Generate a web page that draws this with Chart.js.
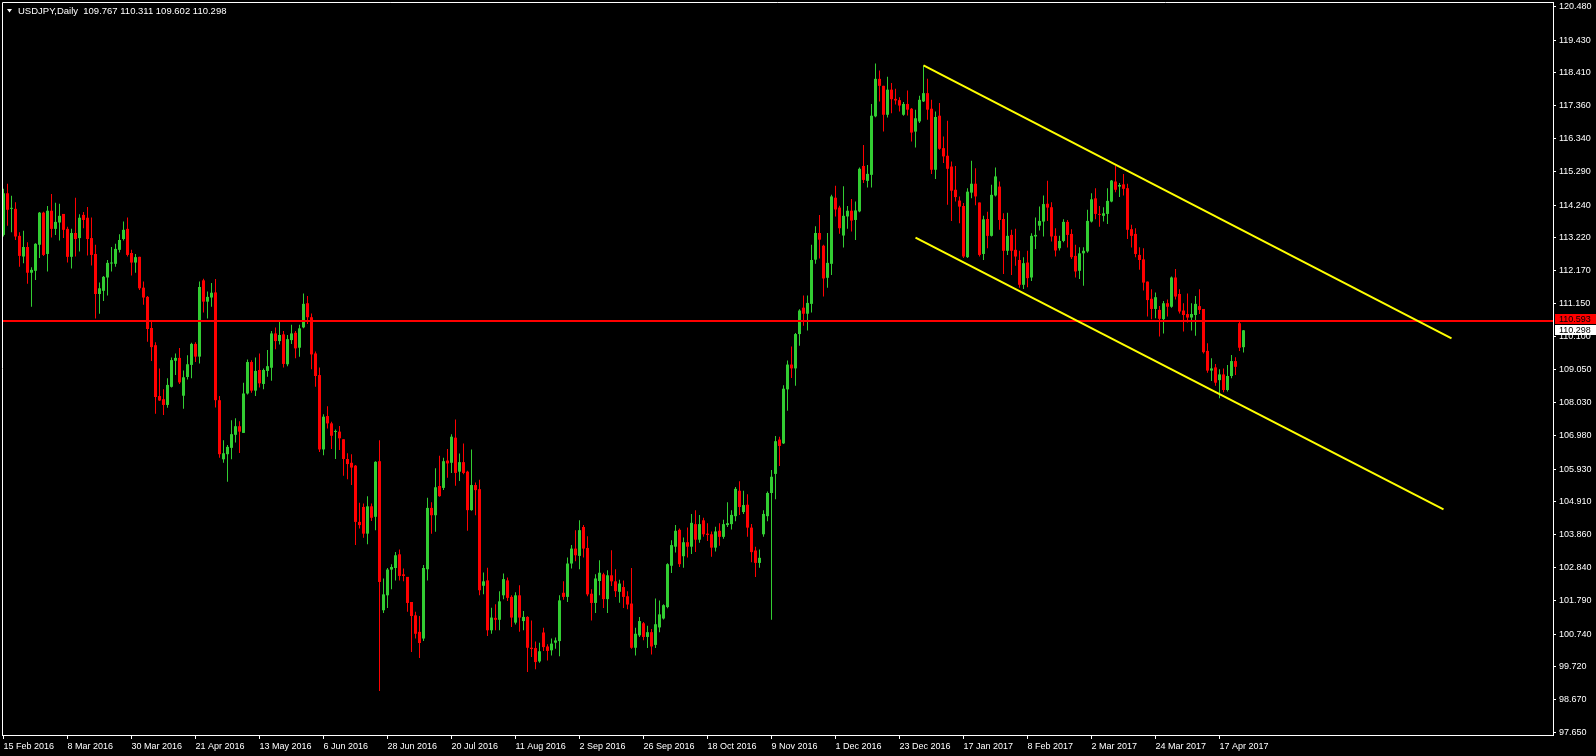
<!DOCTYPE html>
<html>
<head>
<meta charset="utf-8">
<title>USDJPY,Daily</title>
<script src="https://cdn.jsdelivr.net/npm/chart.js@4.4.1/dist/chart.umd.min.js"></script>
<style>
    html, body { margin: 0; padding: 0; background: #000; overflow: hidden; }
    canvas { display: block; }
</style>
</head>
<body>
<canvas id="priceChart" width="1596" height="756"></canvas>
<script>
const symbolName = 'USDJPY,Daily';

// daily candles, 15 Feb 2016 .. 25 Apr 2017 (bar index = position in arrays)
const opens = [
    113.30, 114.61, 114.12, 114.12, 113.27, 112.62, 112.92, 112.11, 112.17, 112.99,
    114.00, 112.70, 114.06, 113.49, 113.69, 113.96, 113.49, 112.61, 113.36, 113.20,
    113.93, 113.84, 113.20, 112.70, 111.44, 111.54, 111.96, 112.40, 112.39, 112.83,
    113.17, 113.49, 112.73, 112.43, 112.61, 111.64, 111.35, 110.37, 109.83, 108.23,
    108.13, 107.95, 108.52, 109.34, 109.43, 108.24, 108.83, 109.21, 109.87, 109.47,
    111.87, 111.20, 111.33, 111.49, 108.10, 106.24, 106.40, 106.60, 107.01, 107.28,
    107.07, 108.31, 109.30, 108.40, 109.05, 108.61, 109.02, 109.12, 110.20, 109.96,
    110.17, 109.23, 109.99, 110.22, 109.75, 110.39, 111.15, 110.71, 109.57, 108.89,
    106.55, 107.60, 107.37, 107.10, 107.11, 106.87, 106.25, 106.13, 106.04, 104.27,
    104.74, 103.90, 104.76, 104.43, 106.18, 101.49, 101.96, 102.77, 102.82, 103.25,
    102.62, 102.54, 101.75, 101.33, 100.81, 100.60, 102.78, 104.71, 104.48, 105.40,
    105.34, 106.20, 106.13, 106.92, 105.85, 106.15, 105.85, 104.64, 105.43, 105.30,
    102.26, 102.43, 100.86, 101.25, 101.19, 101.96, 102.43, 101.91, 101.10, 101.96,
    101.15, 101.28, 100.31, 100.30, 99.88, 100.79, 100.35, 100.23, 100.47, 100.52,
    102.04, 101.91, 102.96, 103.43, 103.20, 104.11, 103.45, 102.01, 101.72, 102.41,
    102.62, 101.84, 102.59, 102.40, 102.07, 102.22, 101.93, 101.70, 100.31, 100.70,
    101.08, 100.65, 100.80, 100.40, 100.95, 101.23, 101.59, 102.89, 103.49, 104.02,
    103.19, 103.63, 103.49, 104.20, 103.71, 104.32, 103.90, 103.88, 103.46, 103.99,
    103.80, 104.17, 104.20, 104.45, 105.25, 104.58, 104.81, 104.09, 103.37, 102.98,
    103.88, 104.45, 105.18, 105.78, 106.86, 106.74, 108.44, 109.22, 109.10, 110.18,
    111.01, 110.82, 111.13, 112.52, 113.36, 112.96, 111.95, 112.39, 114.47, 114.16,
    113.28, 113.88, 114.06, 113.77, 114.04, 115.47, 115.00, 115.19, 117.03, 118.21,
    117.99, 117.08, 117.87, 117.58, 117.54, 117.08, 117.42, 117.27, 116.55, 116.87,
    117.50, 117.76, 117.27, 115.35, 117.05, 116.03, 115.79, 115.45, 114.72, 114.38,
    114.21, 112.60, 114.63, 114.91, 114.32, 112.70, 113.80, 113.27, 114.54, 114.82,
    113.80, 112.80, 113.30, 112.83, 112.51, 111.73, 112.43, 111.96, 113.25, 113.59,
    113.72, 114.28, 114.17, 113.27, 112.88, 113.11, 113.71, 113.33, 112.64, 112.17,
    112.72, 112.78, 113.72, 114.45, 113.96, 113.90, 113.96, 114.35, 114.98, 114.82,
    114.89, 114.77, 113.48, 113.33, 112.67, 112.53, 111.83, 111.29, 110.97, 110.94,
    110.65, 111.15, 111.04, 111.96, 111.44, 110.92, 110.81, 110.70, 110.78, 111.06,
    110.97, 109.65, 109.03, 109.13, 108.73, 108.91, 108.42, 108.86, 109.33, 110.52,
    109.767
];
const highs = [
    114.75, 114.91, 114.53, 114.33, 113.38, 113.43, 113.07, 112.28, 113.04, 114.02,
    114.03, 114.21, 114.59, 114.31, 114.28, 113.96, 113.56, 113.49, 114.47, 113.95,
    114.02, 114.18, 113.85, 112.99, 111.80, 112.01, 112.51, 112.92, 113.02, 113.32,
    113.72, 113.85, 112.83, 112.70, 112.61, 111.83, 111.38, 110.61, 109.92, 109.10,
    108.44, 108.79, 109.44, 109.57, 109.74, 109.03, 109.51, 109.91, 109.92, 111.83,
    111.92, 111.52, 111.79, 111.91, 108.23, 106.84, 106.69, 107.47, 107.53, 107.44,
    108.65, 109.38, 109.36, 109.44, 109.57, 109.10, 109.68, 110.28, 110.39, 110.60,
    110.28, 110.15, 110.47, 110.28, 110.47, 111.46, 111.38, 110.83, 109.63, 109.13,
    107.66, 107.91, 107.42, 107.18, 107.29, 106.87, 106.43, 106.40, 106.06, 104.87,
    104.85, 105.08, 104.85, 106.18, 106.84, 102.49, 102.82, 102.94, 103.32, 103.40,
    102.80, 102.54, 101.75, 101.44, 101.31, 102.91, 105.03, 104.89, 105.96, 106.35,
    106.29, 106.56, 107.03, 107.49, 106.42, 106.74, 105.88, 106.55, 105.51, 105.60,
    102.68, 102.83, 101.57, 101.68, 102.09, 102.65, 102.52, 101.96, 102.06, 102.28,
    101.47, 101.30, 101.17, 100.51, 100.47, 100.94, 100.42, 100.60, 100.63, 101.96,
    102.40, 103.15, 103.54, 104.01, 104.32, 104.17, 103.82, 102.15, 102.62, 103.06,
    102.67, 102.75, 103.38, 102.78, 102.45, 102.43, 102.09, 102.82, 100.94, 101.28,
    101.12, 101.00, 100.90, 101.86, 101.80, 101.68, 102.97, 103.69, 104.17, 104.06,
    103.78, 104.09, 104.52, 104.64, 104.49, 104.40, 104.23, 103.97, 104.12, 104.23,
    104.34, 104.89, 104.64, 105.37, 105.55, 105.25, 105.14, 104.20, 103.49, 103.40,
    104.64, 105.23, 105.90, 106.97, 106.95, 108.57, 109.35, 109.79, 110.21, 110.96,
    111.39, 111.39, 112.99, 113.57, 113.93, 112.99, 113.36, 114.56, 114.85, 114.22,
    114.83, 114.21, 114.43, 114.35, 115.42, 116.13, 115.50, 117.42, 118.69, 118.47,
    117.99, 118.28, 118.08, 117.90, 117.63, 117.48, 117.84, 117.29, 117.24, 117.68,
    118.63, 118.21, 117.55, 117.18, 117.45, 116.40, 116.89, 115.61, 115.47, 114.51,
    114.30, 114.77, 115.63, 115.40, 114.32, 113.90, 114.03, 114.88, 115.42, 114.98,
    113.98, 114.00, 113.46, 113.49, 112.80, 112.60, 112.80, 113.35, 113.85, 114.19,
    114.54, 115.00, 114.33, 113.51, 113.27, 113.79, 113.77, 113.48, 112.99, 112.91,
    112.91, 114.09, 114.61, 114.77, 114.21, 114.17, 114.77, 115.03, 115.47, 114.93,
    115.22, 114.91, 113.62, 113.51, 112.91, 112.88, 111.83, 111.59, 111.49, 111.06,
    111.22, 111.27, 111.99, 112.23, 111.59, 111.15, 111.46, 111.15, 111.38, 111.59,
    110.97, 109.89, 109.42, 109.24, 109.07, 109.10, 109.21, 109.52, 109.45, 110.57,
    110.311
];
const lows = [
    113.25, 113.59, 113.38, 113.14, 112.30, 112.41, 111.76, 111.04, 111.88, 112.57,
    112.64, 112.15, 113.22, 113.30, 113.12, 113.20, 112.43, 112.24, 112.62, 112.78,
    113.51, 112.65, 112.34, 110.67, 110.82, 111.22, 111.39, 112.15, 112.30, 112.75,
    113.12, 112.62, 112.02, 112.11, 111.57, 111.10, 109.94, 109.33, 107.67, 108.07,
    107.63, 107.86, 108.50, 108.89, 108.61, 107.83, 108.75, 108.79, 109.30, 109.25,
    110.86, 110.67, 111.04, 107.87, 106.29, 106.13, 105.53, 106.24, 106.77, 106.44,
    107.07, 108.28, 108.33, 108.23, 108.50, 108.44, 108.84, 108.71, 109.70, 109.85,
    109.13, 109.17, 109.87, 109.42, 109.47, 110.36, 110.50, 109.07, 108.52, 106.47,
    106.37, 107.21, 106.56, 106.25, 106.53, 105.72, 105.61, 105.43, 103.54, 104.06,
    103.77, 103.57, 104.30, 104.01, 98.95, 101.40, 101.56, 102.15, 102.43, 102.43,
    102.40, 101.44, 100.18, 100.60, 99.99, 100.52, 102.43, 103.90, 103.96, 105.06,
    105.27, 105.66, 105.81, 105.41, 105.56, 105.77, 103.99, 104.62, 104.48, 101.96,
    101.99, 100.68, 100.75, 100.86, 100.86, 101.84, 101.78, 100.96, 101.04, 100.81,
    100.86, 99.55, 100.02, 99.63, 99.84, 100.21, 99.91, 100.07, 100.28, 100.04,
    101.82, 101.75, 102.80, 103.03, 102.78, 103.15, 101.93, 101.17, 101.40, 101.96,
    101.56, 101.40, 102.25, 101.91, 101.73, 101.56, 101.52, 100.28, 100.07, 100.65,
    100.55, 100.30, 100.10, 100.30, 100.80, 101.20, 101.55, 102.66, 103.31, 102.85,
    102.83, 103.15, 103.26, 103.32, 103.61, 103.80, 103.67, 103.17, 103.34, 103.52,
    103.74, 104.11, 104.03, 104.29, 104.49, 104.52, 103.80, 103.00, 102.54, 102.83,
    103.80, 104.29, 101.19, 104.98, 106.03, 106.72, 107.77, 108.80, 108.55, 109.81,
    110.44, 110.29, 110.86, 112.39, 112.56, 111.36, 111.64, 112.04, 113.88, 113.34,
    112.90, 113.49, 113.41, 113.14, 114.01, 114.93, 114.79, 114.79, 117.00, 117.50,
    116.55, 116.99, 117.13, 117.40, 117.18, 117.05, 117.06, 116.24, 116.05, 116.82,
    117.48, 116.92, 115.22, 115.06, 115.98, 115.56, 114.25, 113.74, 114.35, 113.67,
    112.57, 112.57, 114.45, 114.23, 112.62, 112.51, 112.88, 113.25, 114.51, 113.46,
    112.07, 112.67, 112.04, 112.33, 111.64, 111.60, 111.65, 111.85, 112.86, 113.44,
    113.25, 113.74, 113.09, 112.62, 112.81, 113.07, 112.90, 112.54, 111.96, 111.91,
    111.70, 112.74, 113.69, 113.79, 113.56, 113.72, 113.64, 114.33, 114.64, 114.49,
    114.54, 113.17, 112.90, 112.60, 112.20, 111.55, 110.73, 110.65, 110.68, 110.10,
    110.20, 110.73, 111.01, 111.27, 110.83, 110.26, 110.54, 110.29, 110.13, 110.81,
    109.57, 108.96, 108.70, 108.55, 108.16, 108.35, 108.37, 108.79, 108.89, 109.65,
    109.602
];
const closes = [
    114.61, 114.09, 114.14, 113.25, 112.64, 112.92, 112.11, 112.20, 113.02, 114.00,
    112.67, 114.06, 113.49, 113.71, 113.90, 113.46, 112.61, 113.36, 113.17, 113.84,
    113.77, 113.17, 112.67, 111.44, 111.62, 111.98, 112.42, 112.43, 112.86, 113.14,
    113.46, 112.67, 112.43, 112.60, 111.62, 111.33, 110.34, 109.77, 108.20, 108.09,
    107.95, 108.58, 109.36, 109.43, 108.66, 108.82, 109.23, 109.87, 109.47, 111.66,
    111.20, 111.35, 111.48, 108.10, 106.40, 106.43, 106.63, 107.03, 107.28, 107.11,
    108.31, 109.30, 108.40, 109.02, 108.63, 109.05, 109.17, 110.20, 109.96, 110.15,
    109.24, 110.02, 110.20, 109.73, 110.36, 111.13, 110.71, 109.54, 108.86, 106.55,
    107.58, 107.37, 106.98, 107.11, 106.90, 106.25, 106.09, 105.98, 104.27, 104.17,
    103.90, 104.76, 104.40, 106.16, 102.38, 101.99, 102.77, 102.85, 103.22, 102.57,
    102.57, 101.72, 101.31, 100.75, 100.46, 102.82, 104.71, 104.48, 105.36, 105.08,
    106.18, 106.11, 106.95, 105.81, 106.15, 105.81, 104.64, 105.43, 105.27, 102.12,
    102.40, 100.86, 101.26, 101.19, 101.77, 102.47, 101.88, 101.26, 101.96, 101.26,
    101.28, 100.31, 100.27, 99.86, 100.20, 100.33, 100.21, 100.44, 100.54, 101.80,
    101.91, 102.96, 103.43, 103.22, 104.01, 103.43, 101.99, 101.72, 102.49, 102.67,
    101.84, 102.59, 102.40, 102.09, 102.33, 101.91, 101.67, 100.31, 100.75, 101.15,
    100.65, 100.80, 100.35, 101.05, 101.36, 101.65, 102.94, 103.54, 103.99, 102.94,
    103.63, 103.49, 104.24, 103.71, 104.20, 103.88, 103.86, 103.46, 103.97, 103.80,
    104.20, 104.23, 104.49, 105.31, 104.74, 104.80, 104.09, 103.32, 102.98, 103.14,
    104.52, 105.18, 105.69, 106.81, 106.66, 108.46, 109.22, 109.10, 110.18, 110.92,
    110.82, 111.16, 112.51, 113.36, 113.15, 111.93, 112.42, 114.51, 114.10, 113.51,
    113.90, 114.06, 113.75, 114.07, 115.38, 115.03, 115.22, 117.05, 118.21, 117.99,
    117.08, 117.87, 117.57, 117.53, 117.37, 117.42, 117.24, 116.52, 116.97, 117.55,
    117.76, 117.24, 115.35, 117.01, 116.01, 115.77, 115.38, 114.69, 114.49, 114.19,
    112.62, 114.66, 114.91, 114.51, 112.67, 113.79, 113.27, 114.56, 115.14, 113.77,
    112.80, 113.27, 112.80, 112.62, 111.73, 112.41, 111.94, 113.27, 113.30, 113.74,
    114.27, 114.16, 113.25, 112.81, 113.11, 113.71, 113.30, 112.60, 112.15, 112.72,
    112.80, 113.74, 114.42, 113.96, 113.93, 113.98, 114.37, 115.01, 114.72, 114.87,
    114.75, 113.46, 113.27, 112.70, 112.51, 111.80, 111.25, 110.97, 111.34, 110.66,
    111.15, 111.04, 111.96, 111.36, 110.89, 110.78, 110.70, 110.81, 111.13, 110.94,
    109.61, 109.03, 109.10, 108.65, 108.91, 108.42, 108.86, 109.33, 109.15, 109.75,
    110.298
];

const dateTickBars = [0, 16, 32, 48, 64, 80, 96, 112, 128, 144, 160, 176, 192, 208, 224, 240, 256, 272, 288, 304];
const dateLabels = [
    '15 Feb 2016', '8 Mar 2016', '30 Mar 2016', '21 Apr 2016', '13 May 2016', '6 Jun 2016',
    '28 Jun 2016', '20 Jul 2016', '11 Aug 2016', '2 Sep 2016', '26 Sep 2016', '18 Oct 2016',
    '9 Nov 2016', '1 Dec 2016', '23 Dec 2016', '17 Jan 2017', '8 Feb 2017', '2 Mar 2017',
    '24 Mar 2017', '17 Apr 2017'
];
const priceTicks = [
    120.480, 119.430, 118.410, 117.360, 116.340, 115.290, 114.240, 113.220, 112.170, 111.150,
    110.100, 109.050, 108.030, 106.980, 105.930, 104.910, 103.860, 102.840, 101.790, 100.740,
    99.720, 98.670, 97.650
];

// drawn objects: channel (bar index, price) and horizontal level
const channelUpper = [{ x: 230, y: 118.632 }, { x: 362, y: 110.047 }];
const channelLower = [{ x: 228, y: 113.215 }, { x: 360, y: 104.663 }];
const levelPrice = 110.593;

document.addEventListener('DOMContentLoaded', function () {
    const ctx = document.getElementById('priceChart');
    const fontFamily = "'Liberation Sans', Arial, sans-serif";
    const xMin = -0.375;
    const xMax = 387.375;
    const last = closes.length - 1;

    const bullColor = '#32CD32';
    const bearColor = '#FF0000';
    const candleColors = opens.map((o, i) => closes[i] >= o ? bullColor : bearColor);

    const wicks = highs.map((h, i) => ({ x: i, y: [lows[i], h] }));
    const bodies = opens.map((o, i) => ({ x: i, y: [o, closes[i]] }));

    const terminalPlugin = {
        id: 'terminal',
        beforeDraw(chart) {
            const c = chart.ctx;
            c.save();
            c.fillStyle = '#000000';
            c.fillRect(0, 0, chart.width, chart.height);
            c.restore();
        },
        afterDraw(chart) {
            const c = chart.ctx;
            const area = chart.chartArea;
            const yScale = chart.scales.y;
            c.save();

            // left / top frame
            c.strokeStyle = '#FFFFFF';
            c.lineWidth = 1;
            c.beginPath();
            c.moveTo(area.left + 0.5, area.bottom);
            c.lineTo(area.left + 0.5, area.top + 0.5);
            c.lineTo(area.right, area.top + 0.5);
            c.stroke();

            // price tags on the axis
            const boxLeft = yScale.left + 2;
            const boxWidth = chart.width - boxLeft;
            const whiteTop = Math.round(yScale.getPixelForValue(closes[last])) - 5;
            const redTop = Math.min(Math.round(yScale.getPixelForValue(levelPrice)) - 5, whiteTop - 11);
            c.fillStyle = '#FF0000';
            c.fillRect(boxLeft, redTop, boxWidth, 10);
            c.fillStyle = '#FFFFFF';
            c.fillRect(boxLeft, whiteTop, boxWidth, 10);
            c.font = '9px ' + fontFamily;
            c.textBaseline = 'middle';
            c.textAlign = 'left';
            c.fillStyle = '#000000';
            c.fillText(levelPrice.toFixed(3), yScale.left + 6, redTop + 5.5);
            c.fillText(closes[last].toFixed(3), yScale.left + 6, whiteTop + 5.5);

            // symbol title with last bar OHLC
            c.fillStyle = '#FFFFFF';
            c.beginPath();
            c.moveTo(7, 9);
            c.lineTo(12, 9);
            c.lineTo(9.5, 12.5);
            c.closePath();
            c.fill();
            c.font = '9.5px ' + fontFamily;
            const ohlc = [opens[last], highs[last], lows[last], closes[last]].map(v => v.toFixed(3)).join(' ');
            c.fillText(symbolName + '  ' + ohlc, 18, 11);
            c.restore();
        }
    };

    new Chart(ctx, {
        type: 'bar',
        data: {
            datasets: [
                {
                    type: 'line',
                    data: channelUpper,
                    borderColor: '#FFFF00',
                    borderWidth: 2,
                    pointRadius: 0,
                    fill: false,
                    order: 0
                },
                {
                    type: 'line',
                    data: channelLower,
                    borderColor: '#FFFF00',
                    borderWidth: 2,
                    pointRadius: 0,
                    fill: false,
                    order: 0
                },
                {
                    type: 'line',
                    data: [{ x: xMin, y: levelPrice }, { x: xMax, y: levelPrice }],
                    borderColor: '#FF0000',
                    borderWidth: 2,
                    pointRadius: 0,
                    fill: false,
                    order: 0
                },
                {
                    label: 'body',
                    data: bodies,
                    backgroundColor: candleColors,
                    barThickness: 3,
                    minBarLength: 1,
                    grouped: false,
                    inflateAmount: 0,
                    borderWidth: 0,
                    order: 1
                },
                {
                    label: 'wick',
                    data: wicks,
                    backgroundColor: candleColors,
                    barThickness: 1,
                    grouped: false,
                    inflateAmount: 0,
                    borderWidth: 0,
                    order: 2
                }
            ]
        },
        options: {
            responsive: false,
            animation: false,
            devicePixelRatio: 1,
            layout: { padding: { left: 2, top: 2, right: 0, bottom: 0 } },
            plugins: {
                legend: { display: false },
                tooltip: { enabled: false }
            },
            scales: {
                x: {
                    type: 'linear',
                    position: 'bottom',
                    min: xMin,
                    max: xMax,
                    offset: false,
                    grid: {
                        drawOnChartArea: false,
                        drawTicks: true,
                        tickLength: 4,
                        color: '#FFFFFF',
                        offset: false
                    },
                    border: { display: true, color: '#FFFFFF', width: 1 },
                    ticks: {
                        autoSkip: false,
                        maxRotation: 0,
                        align: 'start',
                        padding: 2,
                        color: '#FFFFFF',
                        font: { family: fontFamily, size: 9 },
                        callback: (value, index) => dateLabels[index]
                    },
                    afterBuildTicks: (scale) => {
                        scale.ticks = dateTickBars.map(v => ({ value: v }));
                    },
                    afterFit: (scale) => {
                        scale.height = 21;
                        scale.paddingLeft = 0;
                        scale.paddingRight = 0;
                    }
                },
                y: {
                    type: 'linear',
                    position: 'right',
                    min: 97.565,
                    max: 120.628,
                    grid: {
                        drawOnChartArea: false,
                        drawTicks: true,
                        tickLength: 3,
                        color: '#FFFFFF'
                    },
                    border: { display: true, color: '#FFFFFF', width: 1 },
                    ticks: {
                        autoSkip: false,
                        padding: 3,
                        color: '#FFFFFF',
                        font: { family: fontFamily, size: 9 },
                        callback: (value) => value.toFixed(3)
                    },
                    afterBuildTicks: (scale) => {
                        scale.ticks = priceTicks.map(v => ({ value: v }));
                    },
                    afterFit: (scale) => {
                        scale.width = 43;
                        scale.paddingTop = 0;
                        scale.paddingBottom = 0;
                    }
                }
            }
        },
        plugins: [terminalPlugin]
    });
});
</script>
</body>
</html>
